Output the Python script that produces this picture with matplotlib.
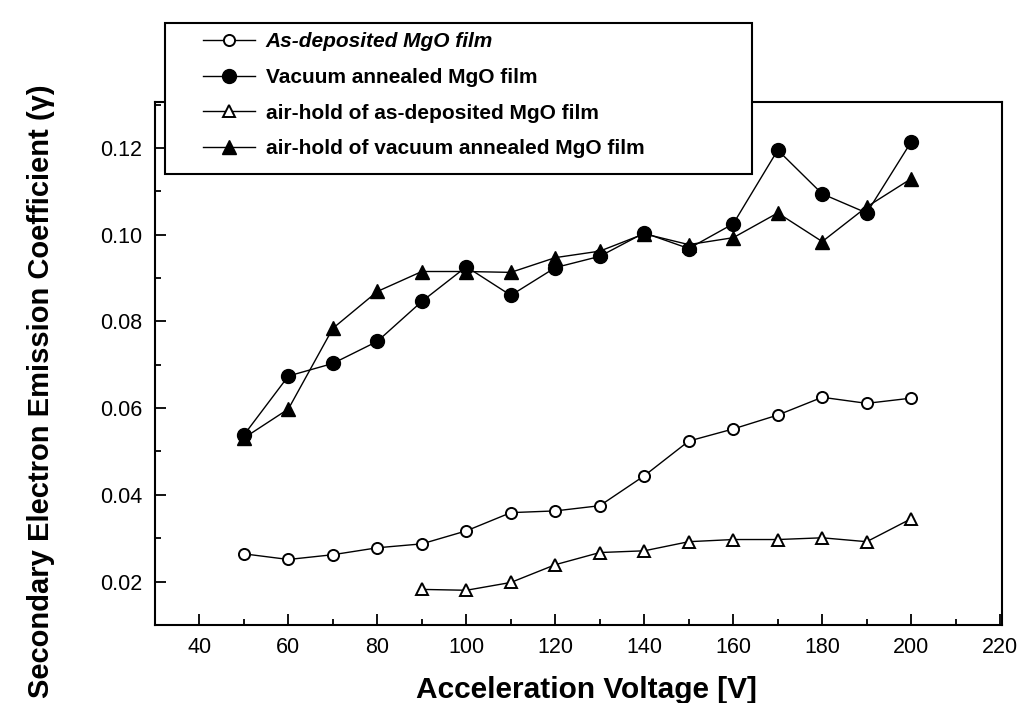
import matplotlib.pyplot as plt
from matplotlib.patches import Rectangle
from matplotlib.ticker import MultipleLocator, FormatStrFormatter

plt.rcParams['font.family'] = ['Liberation Sans', 'DejaVu Sans']

# acceleration voltage [V]
voltage = [50, 60, 70, 80, 90, 100, 110, 120, 130, 140, 150, 160, 170, 180, 190, 200]
voltage_airhold = [90, 100, 110, 120, 130, 140, 150, 160, 170, 180, 190, 200]

# secondary electron emission coefficient
as_deposited = [0.0264, 0.0251, 0.0262, 0.0278, 0.0287, 0.0317, 0.0359, 0.0363,
                0.0375, 0.0444, 0.0524, 0.0552, 0.0584, 0.0625, 0.0611, 0.0623]
vacuum_annealed = [0.0538, 0.0674, 0.0703, 0.0754, 0.0846, 0.0926, 0.0860, 0.0924,
                   0.0950, 0.1004, 0.0968, 0.1025, 0.1195, 0.1094, 0.1050, 0.1214]
airhold_as_dep = [0.0182, 0.0180, 0.0198, 0.0239, 0.0267, 0.0271, 0.0292, 0.0297,
                  0.0297, 0.0301, 0.0292, 0.0345]
airhold_vacuum = [0.0531, 0.0598, 0.0784, 0.0869, 0.0915, 0.0915, 0.0913, 0.0947,
                  0.0962, 0.1002, 0.0977, 0.0993, 0.1050, 0.0984, 0.1064, 0.1129]

labels = ['As-deposited MgO film',
          'Vacuum annealed MgO film',
          'air-hold of as-deposited MgO film',
          'air-hold of vacuum annealed MgO film']

fig = plt.figure(figsize=(10.26, 7.03), dpi=100)
ax = fig.add_axes([0.151, 0.111, 0.826, 0.744])

lw = 1.0
l1, = ax.plot(voltage, as_deposited, '-', color='black', lw=lw, marker='o',
              markersize=8, markerfacecolor='white', markeredgecolor='black', markeredgewidth=1.4)
l2, = ax.plot(voltage, vacuum_annealed, '-', color='black', lw=lw, marker='o',
              markersize=10, markerfacecolor='black', markeredgecolor='black')
l3, = ax.plot(voltage_airhold, airhold_as_dep, '-', color='black', lw=lw, marker='^',
              markersize=9, markerfacecolor='white', markeredgecolor='black', markeredgewidth=1.4)
l4, = ax.plot(voltage, airhold_vacuum, '-', color='black', lw=lw, marker='^',
              markersize=10, markerfacecolor='black', markeredgecolor='black')

ax.set_xlim(30, 220.5)
ax.set_ylim(0.010, 0.1306)
ax.xaxis.set_minor_locator(MultipleLocator(10))
ax.yaxis.set_minor_locator(MultipleLocator(0.01))
ax.yaxis.set_major_formatter(FormatStrFormatter('%.2f'))
ax.set_xticks(range(40, 221, 20))
ax.set_yticks([0.02, 0.04, 0.06, 0.08, 0.10, 0.12])

ax.tick_params(which='both', direction='in', colors='black', labelsize=15.5, width=1.3)
ax.tick_params(which='major', length=8, pad=9)
ax.tick_params(which='minor', length=4)
for s in ax.spines.values():
    s.set_linewidth(1.5)

ax.set_xlabel('Acceleration Voltage [V]', fontsize=21.5, fontweight='bold')
ax.xaxis.set_label_coords(0.509, -0.0975)
ax.set_ylabel('Secondary Electron Emission Coefficient (\u03b3)', fontsize=21,
              fontweight='bold')
ax.yaxis.set_label_coords(-0.118, 0.447)

# legend box is wider than its text, so the frame is drawn separately
box = Rectangle((0.161, 0.752), 0.572, 0.215, transform=fig.transFigure,
                facecolor='white', edgecolor='black', linewidth=1.5, zorder=3)
fig.patches.append(box)

leg = fig.legend([l1, l2, l3, l4], labels, loc='upper left',
                 bbox_to_anchor=(0.198, 0.954), frameon=False, handlelength=2.5,
                 handletextpad=0.5, borderpad=0, labelspacing=0.8,
                 borderaxespad=0, prop={'size': 15, 'weight': 'bold'})
leg.set_zorder(4)
leg.get_texts()[0].set_fontstyle('italic')
for t in leg.get_texts():
    t.set_color('black')

fig.savefig('out.png', dpi=100)
